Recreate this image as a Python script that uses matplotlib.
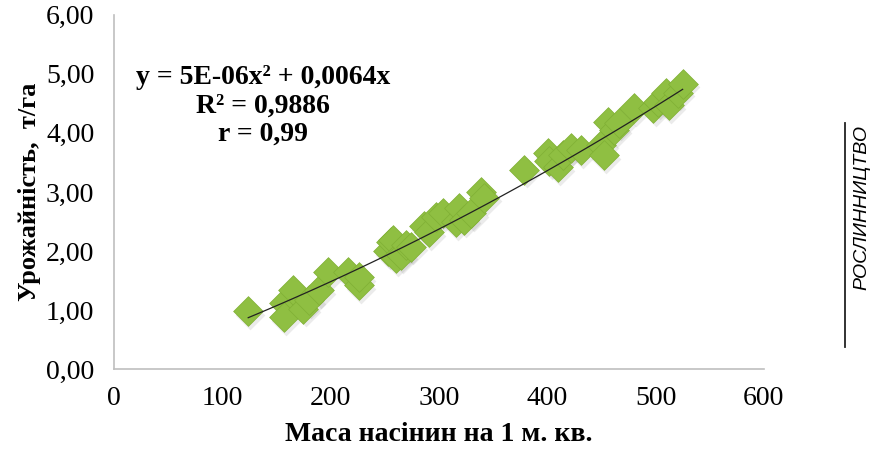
import matplotlib

matplotlib.use("Agg")
import matplotlib.pyplot as plt
import numpy as np
from matplotlib.ticker import FuncFormatter

# seed mass per 1 m2 vs yield (t/ha)
seed_mass = [124, 157, 157, 165, 175, 180, 189, 198, 216, 226, 226,
             253, 256, 258, 260, 265, 270, 274, 286, 291, 297, 304,
             316, 319, 323, 330, 339, 342, 379, 401, 402, 410, 415,
             422, 431, 450, 452, 456, 462, 466, 480, 498, 502, 510,
             512, 521, 525]
yield_tha = [0.98, 1.12, 0.88, 1.34, 1.02, 1.17, 1.34, 1.64, 1.64, 1.42, 1.56,
             2.00, 2.15, 2.19, 1.88, 1.93, 2.10, 2.07, 2.42, 2.32, 2.58, 2.64,
             2.49, 2.73, 2.53, 2.64, 3.00, 2.90, 3.38, 3.66, 3.52, 3.42, 3.63,
             3.75, 3.71, 3.80, 3.62, 4.19, 4.05, 4.17, 4.42, 4.42, 4.53, 4.68,
             4.47, 4.68, 4.83]

coef_a, coef_b = 5e-06, 0.0064
eq_lines = ["y = 5E-06x² + 0,0064x", "R² = 0,9886", "r = 0,99"]

SERIF = "Liberation Serif"
GREEN = "#8fbf42"

fig = plt.figure(figsize=(8.76, 4.49), dpi=100)
ax = fig.add_axes([0.130, 0.178, 0.742, 0.789])

x = np.array(seed_mass)
y = np.array(yield_tha)
# soft shadow under each diamond
ax.scatter(x + 2.0, y - 0.06, marker="D", s=230, color="#000000", alpha=0.08,
           linewidths=0, zorder=2)
ax.scatter(x, y, marker="D", s=230, color=GREEN, edgecolors="#80b035",
           linewidths=0.5, zorder=3)

xs = np.linspace(x.min(), x.max(), 100)
ax.plot(xs, coef_a * xs ** 2 + coef_b * xs, color="#222222", lw=0.9, zorder=4)

ax.set_xlim(0, 600)
ax.set_ylim(0, 6)
ax.set_xticks(range(0, 601, 100))
ax.set_yticks(range(0, 7))
ax.yaxis.set_major_formatter(FuncFormatter(lambda v, _: f"{v:.2f}".replace(".", ",")))
ax.tick_params(length=0, labelsize=20)
ax.tick_params(axis="y", pad=14)
ax.tick_params(axis="x", pad=12)
for lab in ax.get_xticklabels() + ax.get_yticklabels():
    lab.set_fontfamily(SERIF)

for side in ["top", "right"]:
    ax.spines[side].set_visible(False)
for side in ["left", "bottom"]:
    ax.spines[side].set_color("#bfbfbf")
    ax.spines[side].set_linewidth(1.2)

ax.set_xlabel("Маса насінин на 1 м. кв.", fontfamily=SERIF, fontweight="bold",
              fontsize=20, labelpad=8)
ax.set_ylabel("Урожайність,  т/га", fontfamily=SERIF, fontweight="bold",
              fontsize=19, labelpad=4)

for i, line in enumerate(eq_lines):
    fig.text(263 / 876, 1 - (78 + i * 28) / 449, line, ha="center", va="center",
             fontfamily=SERIF, fontweight="bold", fontsize=20)

# journal section mark on the right
fig.add_artist(plt.Line2D([845 / 876, 845 / 876], [1 - 123 / 449, 1 - 347 / 449],
                          color="#222222", lw=1.3))
fig.text(862 / 876, 1 - 208 / 449, "РОСЛИННИЦТВО", rotation=90, ha="center",
         va="center", fontfamily="Liberation Sans", fontstyle="italic", fontsize=14)

plt.savefig("out.png", dpi=100)
plt.close(fig)
